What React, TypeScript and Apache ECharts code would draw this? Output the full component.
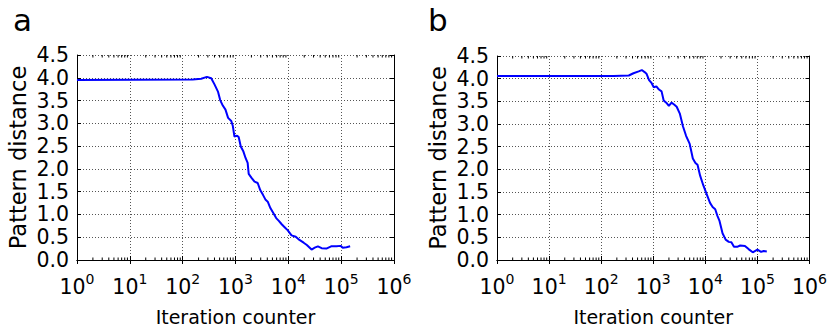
import React, { useEffect, useRef } from "react";
import * as echarts from "echarts";

// Panel a
const iterationsA = [1, 155, 224, 288, 347, 398, 468, 513, 575, 646, 724, 832, 891, 955, 1072, 1148, 1259, 1413, 1549, 1698, 1778, 1995, 2291, 2630, 2951, 3311, 3715, 4074, 4571, 5129, 5888, 6607, 7413, 8511, 9772, 11482, 13804, 16218, 19498, 22387, 27542, 31623, 36308, 42658, 52481, 64565, 81283, 97724, 107152, 125893, 147911];
const distanceA = [3.95, 3.96, 3.98, 4.02, 3.99, 3.86, 3.69, 3.51, 3.39, 3.30, 3.12, 3.05, 2.94, 2.71, 2.73, 2.70, 2.49, 2.38, 2.24, 2.13, 1.89, 1.81, 1.72, 1.69, 1.53, 1.43, 1.32, 1.28, 1.14, 1.04, 0.92, 0.86, 0.79, 0.72, 0.65, 0.54, 0.51, 0.44, 0.38, 0.33, 0.23, 0.27, 0.30, 0.26, 0.25, 0.30, 0.30, 0.31, 0.27, 0.28, 0.30];

// Panel b
const iterationsB = [1, 174, 339, 417, 525, 603, 692, 741, 832, 933, 1023, 1148, 1288, 1445, 1585, 1778, 1995, 2239, 2512, 2818, 3236, 3715, 4266, 5012, 5754, 6457, 7079, 7943, 9120, 10471, 12303, 13804, 15488, 16982, 18621, 21380, 24547, 28184, 31623, 35481, 40738, 46774, 57544, 67608, 81283, 100000, 117490, 131826, 151356];
const distanceB = [4.06, 4.06, 4.07, 4.12, 4.16, 4.19, 4.14, 4.11, 3.97, 3.90, 3.81, 3.83, 3.76, 3.72, 3.52, 3.47, 3.40, 3.47, 3.43, 3.38, 3.23, 2.95, 2.74, 2.56, 2.24, 2.14, 2.10, 1.86, 1.65, 1.47, 1.26, 1.17, 1.12, 0.98, 0.87, 0.59, 0.45, 0.40, 0.39, 0.29, 0.29, 0.32, 0.31, 0.24, 0.17, 0.23, 0.18, 0.20, 0.19];

// Axis ticks
const decades = [1, 10, 100, 1000, 10000, 100000];
const minorFactors = [2, 3, 4, 5, 6, 7, 8, 9];
const xMin = 1;
const xMax = 1000000;
const yMin = 0;
const yMax = 4.5;
const yStep = 0.5;
const panelLabels = ["a", "b"];
const xTitle = "Iteration counter";
const yTitle = "Pattern distance";

const FONT = "DejaVu Sans";
const grids = [
  { left: 77, top: 55, width: 317, height: 212 },
  { left: 497, top: 56, width: 316, height: 213 },
];

const minorTicks: number[][] = [];
decades.forEach((d) => minorFactors.forEach((f) => minorTicks.push([d * f, yMin])));

export default function App() {
  const ref = useRef<HTMLDivElement>(null);
  useEffect(() => {
    if (!ref.current) return;
    const chart = echarts.init(ref.current, null, { renderer: "svg" });
    const xAxes: any[] = [];
    const yAxes: any[] = [];
    const series: any[] = [];
    const data = [
      { xs: iterationsA, ys: distanceA },
      { xs: iterationsB, ys: distanceB },
    ];
    grids.forEach((g, i) => {
      const base = {
        type: "log",
        logBase: 10,
        min: xMin,
        max: xMax,
        gridIndex: i,
        axisLine: { show: true, lineStyle: { color: "#000", width: 1 } },
        axisTick: { show: true, inside: true, length: 4, lineStyle: { color: "#000" } },
      };
      xAxes.push({
        ...base,
        position: "bottom",
        name: xTitle,
        nameLocation: "middle",
        nameGap: 47,
        nameTextStyle: { fontFamily: FONT, fontSize: 19, color: "#000" },
        axisLabel: {
          margin: 12,
          formatter: (v: number) => `{b|10}{s|${Math.round(Math.log10(v))}}`,
          rich: {
            b: { fontFamily: FONT, fontSize: 20.5, color: "#000", lineHeight: 30 },
            s: { fontFamily: FONT, fontSize: 14, color: "#000", lineHeight: 14, verticalAlign: "top" },
          },
        },
        splitLine: { show: true, lineStyle: { color: "#555", width: 1, type: [1, 2] } },
      });
      xAxes.push({
        ...base,
        position: "top",
        axisLabel: { show: false },
        splitLine: { show: false },
      });
      const ybase = {
        type: "value",
        min: yMin,
        max: yMax,
        interval: yStep,
        gridIndex: i,
        axisLine: { show: true, lineStyle: { color: "#000", width: 1 } },
        axisTick: { show: true, inside: true, length: 4, lineStyle: { color: "#000" } },
      };
      yAxes.push({
        ...ybase,
        position: "left",
        name: yTitle,
        nameLocation: "middle",
        nameGap: 48,
        nameRotate: 90,
        nameTextStyle: { fontFamily: FONT, fontSize: 22.5, color: "#000" },
        axisLabel: {
          margin: 8,
          fontFamily: FONT,
          fontSize: 20.5,
          color: "#000",
          formatter: (v: number) => v.toFixed(1),
        },
        splitLine: { show: true, lineStyle: { color: "#555", width: 1, type: [1, 2] } },
      });
      yAxes.push({
        ...ybase,
        position: "right",
        axisLabel: { show: false },
        splitLine: { show: false },
      });
      series.push({
        type: "line",
        xAxisIndex: i * 2,
        yAxisIndex: i * 2,
        data: data[i].xs.map((x, k) => [x, data[i].ys[k]]),
        showSymbol: false,
        symbol: "none",
        lineStyle: { color: "#0000ff", width: 2 },
        silent: true,
      });
      series.push({
        type: "custom",
        xAxisIndex: i * 2,
        yAxisIndex: i * 2,
        data: minorTicks,
        silent: true,
        clip: false,
        encode: { x: 0, y: 1 },
        renderItem: (params: any, api: any) => {
          const v = api.value(0);
          const p0 = api.coord([v, yMin]);
          const p1 = api.coord([v, yMax]);
          return {
            type: "group",
            children: [
              { type: "line", shape: { x1: p0[0], y1: p0[1], x2: p0[0], y2: p0[1] - 2.5 }, style: { stroke: "#000", lineWidth: 1 } },
              { type: "line", shape: { x1: p1[0], y1: p1[1], x2: p1[0], y2: p1[1] + 2.5 }, style: { stroke: "#000", lineWidth: 1 } },
            ],
          };
        },
      });
    });
    chart.setOption({
      animation: false,
      grid: grids.map((g) => ({ ...g, containLabel: false })),
      xAxis: xAxes,
      yAxis: yAxes,
      series,
      graphic: [
        { type: "text", left: 13, top: 4, style: { text: panelLabels[0], font: `31px ${FONT}`, fill: "#000" } },
        { type: "text", left: 428, top: 4, style: { text: panelLabels[1], font: `31px ${FONT}`, fill: "#000" } },
      ],
    });
    return () => chart.dispose();
  }, []);
  return <div ref={ref} style={{ position: "absolute", left: 0, top: 0, width: 830, height: 331 }} />;
}
